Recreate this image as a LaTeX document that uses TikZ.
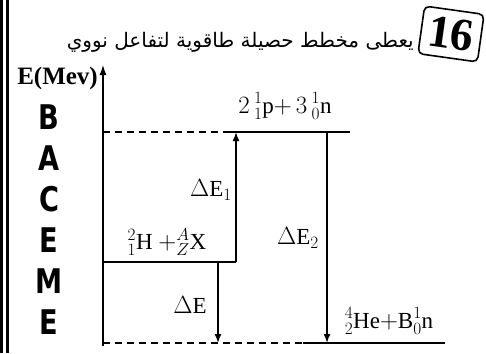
\documentclass[tikz,border=0pt]{standalone}
\usepackage{fontspec}
\setmainfont{Liberation Serif}
\newfontfamily\arabicfont[Script=Arabic]{DejaVu Sans}
\newfontfamily\logofont{DejaVu Sans}
\TeXXeTstate=1
\usetikzlibrary{arrows.meta}

\begin{document}
\begin{tikzpicture}[x=1pt, y=-1pt,
					level/.style={line width=2.2pt},
					dashlevel/.style={line width=1.6pt,
					dash pattern=on 7pt off 5pt},
					gap/.style={-{Latex[length=9pt,width=7pt]},
					line width=1.6pt},
					axis/.style={-{Latex[length=10pt,width=7pt]},
					line width=1.3pt},
					label/.style={inner sep=0pt,
					font=\fontsize{23}{25}\selectfont},
					logoletter/.style={inner sep=0pt, xscale=0.8,
					font=\logofont\bfseries\fontsize{34}{34}\selectfont}
					]

\useasboundingbox (0,0) rectangle (486,353);

% page border
\fill (0,0) rectangle (3.4,353);
\fill (5.8,0) rectangle (9.2,353);

% header
\node[draw, line width=1.6pt, rounded corners=5pt, rotate=-8,
      minimum width=60pt, minimum height=48pt, inner sep=0pt,
      font=\bfseries\fontsize{46}{46}\selectfont] (Num) at (451,34) {16};
\node[anchor=east, inner sep=0pt, font=\arabicfont\fontsize{20}{20}\selectfont]
      (Title) at (414,42) {\beginR يعطى مخطط حصيلة طاقوية لتفاعل نووي\endR};

% logo
\foreach \l [count=\i] in {B,A,C,E,M,E}
  \node[logoletter] (Logo\i) at (49,76+\i*41) {\l};

% axis
\coordinate (O) at (103,346);
\coordinate (Etop) at (103,65);
\draw[axis] (O) -- (Etop);
\node[anchor=east, inner sep=0pt, font=\bfseries\fontsize{25}{25}\selectfont]
      (Eaxis) at (98,78) {E(Mev)};

% levels
\coordinate (TopL) at (103,132);
\coordinate (TopM) at (226,132);
\coordinate (TopR) at (350,132);
\coordinate (MidL) at (103,262);
\coordinate (MidR) at (236,262);
\coordinate (BotL) at (103,343);
\coordinate (BotM) at (303,343);
\coordinate (BotR) at (445,343);

\draw[dashlevel] (TopL) -- (TopM);
\draw[level] (TopM) -- (TopR);
\draw[level] (MidL) -- (MidR);
\draw[dashlevel] (BotL) -- (BotM);
\draw[level] (BotM) -- (BotR);

% level texts
\node[label] (Nucl) at (285,106) {$2\,{}^{1}_{1}\mathrm{p}{+}\,3\,{}^{1}_{0}\mathrm{n}$};
\node[label] (React) at (167,242) {${}^{2}_{1}\mathrm{H}\ {+}{}^{A}_{Z}\mathrm{X}$};
\node[label] (Prod) at (389,321) {${}^{4}_{2}\mathrm{He}{+}\mathrm{B}{}^{1}_{0}\mathrm{n}$};

% arrows
\coordinate (A1) at (236,132);
\coordinate (A0) at (218,262);
\coordinate (A0b) at (218,343);
\coordinate (A2) at (327,132);
\coordinate (A2b) at (327,343);

\draw[gap] (MidR) -- (A1);
\draw[gap] (A0) -- (A0b);
\draw[gap] (A2) -- (A2b);

\node[label] (dE1) at (211,190) {$\Delta\mathrm{E}_1$};
\node[label] (dE2) at (298,238) {$\Delta\mathrm{E}_2$};
\node[label] (dE) at (190,305) {$\Delta\mathrm{E}$};

\end{tikzpicture}
\end{document}
